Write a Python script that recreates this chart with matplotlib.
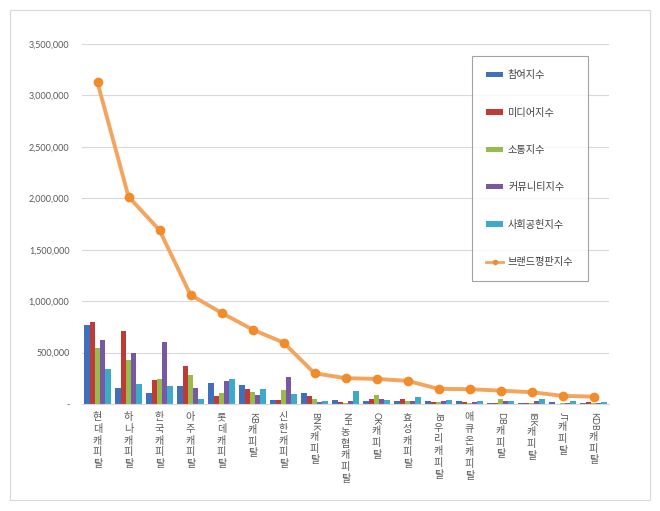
import re
import matplotlib
matplotlib.use("Agg")
import matplotlib.pyplot as plt
import numpy as np
from matplotlib.patches import Rectangle
from matplotlib.lines import Line2D
from matplotlib.ticker import FixedLocator, FuncFormatter

plt.rcParams['font.family'] = ['Noto Sans CJK KR', 'DejaVu Sans']

categories = ["현대캐피탈", "하나캐피탈", "한국캐피탈", "아주캐피탈", "롯데캐피탈", "KB캐피탈",
              "신한캐피탈", "BNK캐피탈", "NH농협캐피탈", "OK캐피탈", "효성캐피탈", "JB우리캐피탈",
              "애큐온캐피탈", "DB캐피탈", "IBK캐피탈", "JT캐피탈", "KDB캐피탈"]

participation = [770000, 160000, 109000, 173000, 209000, 189000, 38000, 105000, 38000,
                 26000, 29000, 26000, 29000, 6000, 10000, 19000, 8000]
media = [800000, 708000, 231000, 368000, 80000, 147000, 38000, 79000, 23000,
         48000, 51000, 19000, 17000, 6000, 10000, 3000, 19000]
communication = [540000, 423000, 240000, 285000, 106000, 115000, 135000, 51000, 12000,
                 83000, 26000, 19000, 13000, 45000, 13000, 6000, 13000]
community = [622000, 500000, 600000, 154000, 228000, 90000, 266000, 20000, 26000,
             45000, 32000, 26000, 17000, 26000, 26000, 8000, 13000]
social = [343000, 190000, 173000, 51000, 247000, 147000, 99000, 32000, 125000,
          38000, 70000, 38000, 26000, 32000, 48000, 26000, 22000]
brand = [3126000, 2016000, 1690000, 1061000, 886000, 724000, 597000, 299000, 251000,
         244000, 225000, 147000, 144000, 130000, 115000, 79000, 72000]

series_names = ["참여지수", "미디어지수", "소통지수", "커뮤니티지수", "사회공헌지수"]
line_name = "브랜드평판지수"
y_ticks = [0, 500000, 1000000, 1500000, 2000000, 2500000, 3000000, 3500000]

colors = ["#3F70B9", "#BF3B36", "#98BB4F", "#7A57A3", "#3FAAC8"]
line_color = "#F3A55E"
marker_color = "#F08C2C"

W, H = 660, 511
fig = plt.figure(figsize=(W / 100, H / 100), dpi=100)
fig.patch.set_facecolor("white")
fig.add_artist(Rectangle((10 / W, 1 - 500 / H), 640 / W, 490 / H, transform=fig.transFigure,
                         facecolor="none", edgecolor="#D9D9D9", linewidth=0.8, zorder=-1))

ax = fig.add_axes([82 / W, 1 - 404 / H, (609 - 82) / W, (404 - 44) / H])
ax.set_facecolor("none")

x = np.arange(len(categories))
all_series = [participation, media, communication, community, social]
bw = 0.168
for k, (vals, c, n) in enumerate(zip(all_series, colors, series_names)):
    ax.bar(x + (k - 2) * bw, vals, width=bw, color=c, label=n, zorder=2, linewidth=0)

ax.plot(x, brand, color=line_color, linewidth=2.8, zorder=3, solid_capstyle="round")
ax.plot(x, brand, linestyle="none", marker="o", markersize=7, color=marker_color,
        markeredgewidth=0, zorder=4)

ax.set_xlim(-0.5, len(categories) - 0.5)
ax.set_ylim(0, 3500000)
ax.yaxis.set_major_locator(FixedLocator(y_ticks))
ax.yaxis.set_major_formatter(FuncFormatter(lambda v, p: "-" if v == 0 else f"{int(v):,}"))
ax.grid(axis="y", color="#D9D9D9", linewidth=0.8, zorder=0)
ax.set_axisbelow(True)
for s in ["top", "right", "left"]:
    ax.spines[s].set_visible(False)
ax.spines["bottom"].set_color("#D9D9D9")
ax.spines["bottom"].set_linewidth(0.8)
ax.tick_params(axis="y", length=0, pad=9, labelsize=6.5, labelcolor="#595959")
ax.tick_params(axis="x", length=0, labelbottom=False)
for t in ax.get_yticklabels():
    t.set_fontfamily(["Lato", "DejaVu Sans"])

# legend
handles = [Rectangle((0, 0), 1, 1, facecolor=c, edgecolor="none") for c in colors]
handles.append(Line2D([0], [0], color=line_color, linewidth=2, marker="o",
                      markersize=4, markerfacecolor=marker_color, markeredgewidth=0))
leg = fig.legend(handles, series_names + [line_name], loc="upper left",
                 bbox_to_anchor=(472 / W, 1 - 56 / H), bbox_transform=fig.transFigure,
                 frameon=True, fancybox=False, edgecolor="#8C8C8C", fontsize=7.3,
                 labelspacing=2.7, borderpad=1.4, handlelength=1.65, handleheight=0.45,
                 handletextpad=0.5, borderaxespad=0)
leg.get_frame().set_linewidth(0.8)
for t in leg.get_texts():
    t.set_color("#404040")
leg.set_zorder(10)

# stacked category labels (Excel style)
renderer = fig.canvas.get_renderer()
top_px = 412
for i, lab in enumerate(categories):
    latin, kor = re.match(r"([A-Za-z]*)(.*)", lab).groups()
    xpx = ax.transData.transform((i, 0))[0]
    ycur = H - top_px
    if latin:
        t = fig.text(xpx / W, ycur / H, latin, rotation=270, ha="center", va="top",
                     fontsize=6.5, color="#595959", family=["Lato", "DejaVu Sans"])
        ext = t.get_window_extent(renderer)
        ycur = ext.y0 - 1
    fig.text(xpx / W, ycur / H, "\n".join(kor), ha="center", va="top", fontsize=7.3,
             color="#595959", linespacing=1.22)

fig.savefig("out.png", dpi=100, facecolor="white")
